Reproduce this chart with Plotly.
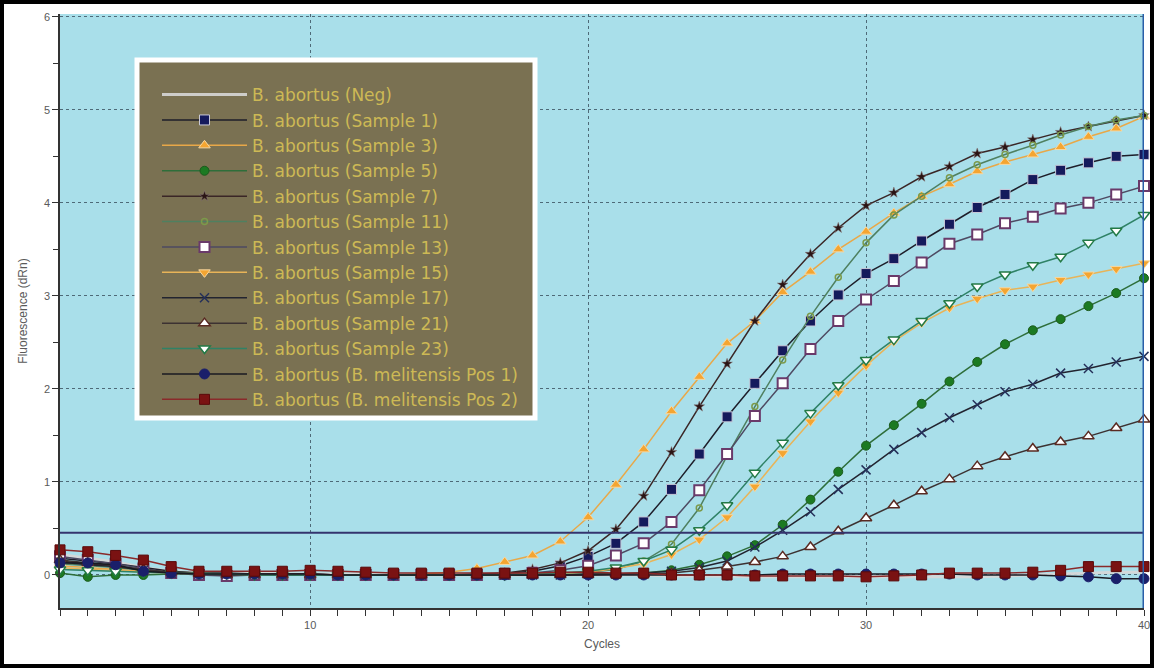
import plotly.graph_objects as go

cycles = list(range(1, 41))

series_names = [
    "B. abortus (Neg)",
    "B. abortus (Sample 1)",
    "B. abortus (Sample 3)",
    "B. abortus (Sample 5)",
    "B. abortus (Sample 7)",
    "B. abortus (Sample 11)",
    "B. abortus (Sample 13)",
    "B. abortus (Sample 15)",
    "B. abortus (Sample 17)",
    "B. abortus (Sample 21)",
    "B. abortus (Sample 23)",
    "B. abortus (B. melitensis Pos 1)",
    "B. abortus (B. melitensis Pos 2)",
]

neg = [0.22, 0.18, 0.14, 0.08, 0.04, 0.02, 0.02, 0.02, 0.01, 0.01,
       0.01, 0.01, 0.00, 0.00, 0.00, 0.00, 0.00, 0.00, 0.00, 0.00,
       0.00, 0.00, -0.01, -0.01, -0.01, -0.02, -0.02, -0.02, -0.02, -0.02,
       -0.02, -0.02, -0.02, -0.02, -0.01, 0.00, 0.01, 0.02, 0.03, 0.03]
sample1 = [0.18, 0.15, 0.12, 0.08, 0.04, 0.02, 0.02, 0.01, 0.01, 0.01,
           0.00, 0.00, 0.00, 0.00, 0.00, 0.01, 0.02, 0.04, 0.10, 0.20,
           0.34, 0.57, 0.92, 1.30, 1.70, 2.06, 2.41, 2.73, 3.01, 3.24,
           3.40, 3.59, 3.77, 3.95, 4.09, 4.25, 4.35, 4.43, 4.50, 4.52]
sample3 = [0.10, 0.08, 0.06, 0.04, 0.02, 0.01, 0.01, 0.00, 0.00, 0.00,
           0.00, 0.00, 0.00, 0.01, 0.03, 0.07, 0.14, 0.21, 0.36, 0.62,
           0.97, 1.35, 1.76, 2.13, 2.49, 2.73, 3.04, 3.26, 3.50, 3.69,
           3.89, 4.07, 4.20, 4.34, 4.44, 4.52, 4.60, 4.71, 4.80, 4.93]
sample5 = [0.02, -0.02, 0.00, 0.00, 0.01, 0.01, 0.00, 0.00, 0.00, 0.00,
           0.00, 0.00, 0.00, 0.00, 0.00, 0.00, 0.00, 0.00, 0.00, 0.01,
           0.01, 0.02, 0.05, 0.11, 0.20, 0.32, 0.54, 0.81, 1.11, 1.39,
           1.61, 1.84, 2.08, 2.29, 2.48, 2.63, 2.75, 2.89, 3.03, 3.19]
sample7 = [0.15, 0.12, 0.09, 0.06, 0.03, 0.02, 0.01, 0.01, 0.01, 0.01,
           0.00, 0.00, 0.00, 0.00, 0.00, 0.00, 0.02, 0.06, 0.13, 0.26,
           0.49, 0.85, 1.32, 1.81, 2.27, 2.73, 3.12, 3.45, 3.73, 3.97,
           4.11, 4.28, 4.39, 4.53, 4.60, 4.68, 4.76, 4.82, 4.88, 4.94]
sample11 = [0.12, 0.10, 0.08, 0.05, 0.03, 0.02, 0.01, 0.01, 0.00, 0.00,
            0.00, 0.00, 0.00, 0.00, 0.00, 0.00, 0.00, 0.01, 0.02, 0.03,
            0.06, 0.15, 0.33, 0.72, 1.28, 1.81, 2.31, 2.78, 3.20, 3.57,
            3.87, 4.07, 4.27, 4.41, 4.52, 4.62, 4.73, 4.82, 4.89, 4.94]
sample13 = [0.20, 0.16, 0.12, 0.07, 0.02, 0.00, -0.01, 0.00, 0.00, 0.00,
            0.00, 0.00, 0.00, 0.00, 0.00, 0.00, 0.01, 0.02, 0.05, 0.10,
            0.21, 0.34, 0.57, 0.91, 1.30, 1.71, 2.06, 2.43, 2.73, 2.96,
            3.16, 3.36, 3.56, 3.66, 3.78, 3.85, 3.94, 4.00, 4.09, 4.18]
sample15 = [0.08, 0.06, 0.05, 0.03, 0.02, 0.01, 0.01, 0.00, 0.00, 0.00,
            0.00, 0.00, 0.00, 0.00, 0.00, 0.00, 0.00, 0.01, 0.02, 0.03,
            0.07, 0.12, 0.22, 0.38, 0.62, 0.95, 1.31, 1.65, 1.96, 2.25,
            2.51, 2.71, 2.87, 2.97, 3.06, 3.10, 3.17, 3.23, 3.29, 3.35]
sample17 = [0.14, 0.11, 0.09, 0.05, 0.02, 0.01, 0.01, 0.01, 0.00, 0.00,
            0.00, 0.00, 0.00, 0.00, 0.00, 0.00, 0.00, 0.00, 0.00, 0.01,
            0.01, 0.02, 0.04, 0.08, 0.15, 0.30, 0.48, 0.68, 0.92, 1.13,
            1.35, 1.53, 1.69, 1.83, 1.97, 2.05, 2.17, 2.22, 2.29, 2.35]
sample21 = [0.16, 0.13, 0.10, 0.06, 0.03, 0.01, 0.00, 0.00, 0.00, 0.00,
            0.00, 0.00, 0.00, 0.00, 0.00, 0.00, 0.00, 0.00, 0.00, 0.00,
            0.01, 0.01, 0.02, 0.05, 0.09, 0.14, 0.20, 0.30, 0.47, 0.61,
            0.75, 0.90, 1.03, 1.17, 1.27, 1.36, 1.43, 1.49, 1.58, 1.67]
sample23 = [0.06, 0.05, 0.04, 0.03, 0.02, 0.01, 0.01, 0.00, 0.00, 0.00,
            0.00, 0.00, 0.00, 0.00, 0.00, 0.00, 0.00, 0.01, 0.02, 0.04,
            0.08, 0.15, 0.27, 0.48, 0.75, 1.10, 1.42, 1.74, 2.04, 2.31,
            2.53, 2.73, 2.92, 3.10, 3.23, 3.33, 3.42, 3.57, 3.70, 3.87]
pos1 = [0.13, 0.13, 0.11, 0.04, 0.02, 0.01, 0.01, 0.01, 0.01, 0.01,
        0.00, 0.00, 0.00, 0.00, 0.00, 0.00, 0.00, 0.00, 0.00, 0.00,
        0.00, 0.00, 0.00, 0.00, 0.00, 0.00, 0.01, 0.01, 0.01, 0.01,
        0.01, 0.01, 0.01, 0.00, 0.00, 0.00, -0.01, -0.02, -0.04, -0.04]
pos2 = [0.27, 0.25, 0.21, 0.16, 0.09, 0.04, 0.04, 0.04, 0.04, 0.05,
        0.04, 0.03, 0.02, 0.02, 0.02, 0.02, 0.02, 0.02, 0.03, 0.03,
        0.02, 0.02, 0.00, 0.00, 0.00, -0.01, -0.01, -0.01, -0.01, -0.02,
        -0.01, 0.00, 0.02, 0.02, 0.02, 0.03, 0.05, 0.09, 0.09, 0.09]

threshold = 0.455
x_ticks = [10, 20, 30, 40]
y_ticks = [0, 1, 2, 3, 4, 5, 6]

series_values = [neg, sample1, sample3, sample5, sample7, sample11, sample13,
                 sample15, sample17, sample21, sample23, pos1, pos2]

styles = [
    dict(line="rgba(215,215,215,0.9)", lw=3, sym="circle", msize=0, mcolor="rgba(0,0,0,0)", mline="rgba(0,0,0,0)", mlw=0),
    dict(line="#1e1e2a", lw=1.5, sym="square", msize=10, mcolor="#151a5c", mline="#c8c8d8", mlw=1),
    dict(line="#e8a848", lw=1.5, sym="triangle-up", msize=10, mcolor="#f4a531", mline="#f8d8a0", mlw=1),
    dict(line="#2e6e3a", lw=1.5, sym="circle", msize=9, mcolor="#1c7a22", mline="#1c5a1c", mlw=1),
    dict(line="#3a2626", lw=1.5, sym="star", msize=8, mcolor="#2a1414", mline="#8a7a7a", mlw=0.5),
    dict(line="#4f8060", lw=1.5, sym="circle-open", msize=6, mcolor="#7c9a4a", mline="#7c9a4a", mlw=1.5),
    dict(line="#4e4a62", lw=1.5, sym="square", msize=10, mcolor="#ffffff", mline="#6a3a6a", mlw=2),
    dict(line="#e8b458", lw=1.5, sym="triangle-down", msize=10, mcolor="#f4a531", mline="#f8d8a0", mlw=1),
    dict(line="#222430", lw=1.5, sym="x-thin", msize=9, mcolor="#25305a", mline="#25305a", mlw=1.5),
    dict(line="#3c3232", lw=1.5, sym="triangle-up", msize=10, mcolor="#ffffff", mline="#5a2a22", mlw=1.5),
    dict(line="#2f8266", lw=1.5, sym="triangle-down", msize=10, mcolor="#ffffff", mline="#237a46", mlw=1.5),
    dict(line="#1a1a22", lw=1.5, sym="circle", msize=10, mcolor="#1a1f6a", mline="#1a1f6a", mlw=1),
    dict(line="#8a2a2a", lw=1.5, sym="square", msize=10, mcolor="#7a1212", mline="#5a0a0a", mlw=1),
]

fig = go.Figure()
for i, (name, vals, st) in enumerate(zip(series_names, series_values, styles)):
    fig.add_trace(go.Scatter(
        x=cycles, y=vals, name=name, mode="lines+markers",
        line=dict(color=st["line"], width=st["lw"]),
        marker=dict(symbol=st["sym"], size=st["msize"], color=st["mcolor"],
                    line=dict(color=st["mline"], width=st["mlw"])),
        cliponaxis=False, legendgroup=f"g{i}",
    ))

PL, PT, PW, PH = 60, 14, 1084, 594  # plot-area geometry in px

# threshold line
fig.add_hline(y=threshold, line=dict(color="#34346e", width=2), layer="above")

# cursor line at the last cycle
fig.add_shape(type="line", xref="x", yref="paper", x0=cycles[-1], x1=cycles[-1],
              y0=0, y1=1, line=dict(color="#2a5fa8", width=3), layer="above")

# legend box
fig.add_shape(type="rect", xref="paper", yref="paper",
              x0=(137 - PL) / PW, x1=(535 - PL) / PW,
              y0=(PT + PH - 418) / PH, y1=(PT + PH - 60) / PH,
              fillcolor="#7a7152", line=dict(color="#ffffff", width=5), layer="above")

# outer black frame
fig.add_shape(type="rect", xref="paper", yref="paper",
              x0=(2 - PL) / PW, x1=(1152 - PL) / PW,
              y0=(PT + PH - 666) / PH, y1=(PT + PH - 2) / PH,
              fillcolor="rgba(0,0,0,0)", line=dict(color="#000000", width=4), layer="above")

tick_font = dict(family="Liberation Sans Narrow, Liberation Sans, Arial", size=11, color="#5a5a5a")
title_font = dict(family="Liberation Sans Narrow, Liberation Sans, Arial", size=12, color="#5a5a5a")

fig.update_layout(
    width=1154, height=668,
    margin=dict(l=PL, r=1154 - PL - PW, t=PT, b=668 - PT - PH, autoexpand=False),
    paper_bgcolor="#ffffff",
    plot_bgcolor="#a9dfea",
    showlegend=True,
    legend=dict(
        x=(157 - PL) / PW, y=(PT + PH - 77) / PH, xanchor="left", yanchor="top",
        bgcolor="rgba(0,0,0,0)", borderwidth=0,
        font=dict(family="DejaVu Sans, Liberation Sans, Arial", size=17, color="#cdb955"),
        itemwidth=85, tracegroupgap=0.3, traceorder="grouped",
        itemclick=False,
    ),
    xaxis=dict(
        range=[1, 40], tickmode="array", tickvals=x_ticks,
        ticktext=[str(t) for t in x_ticks], automargin=False,
        showgrid=True, gridcolor="#4e6a78", griddash="dot", gridwidth=1,
        showline=True, linecolor="#333333", linewidth=1.5,
        ticks="outside", ticklen=6, tickcolor="#333333",
        minor=dict(dtick=1, tick0=0, ticks="outside", ticklen=6, tickcolor="#333333", showgrid=False),
        zeroline=False, tickfont=tick_font,
        title=dict(text="Cycles", font=title_font, standoff=10),
    ),
    yaxis=dict(
        range=[-0.355, 6.03], tickmode="array", tickvals=y_ticks,
        ticktext=[str(t) for t in y_ticks], automargin=False,
        showgrid=True, gridcolor="#4e6a78", griddash="dot", gridwidth=1,
        showline=True, linecolor="#333333", linewidth=1.5,
        ticks="outside", ticklen=6, tickcolor="#333333",
        minor=dict(dtick=0.5, tick0=0, ticks="outside", ticklen=5, tickcolor="#333333", showgrid=False),
        zeroline=False, tickfont=tick_font,
        title=dict(text="Fluorescence (dRn)", font=title_font, standoff=14),
    ),
)

fig.write_html("out.html", config={"displayModeBar": False},
               post_script="document.body.style.margin='0';document.body.style.overflow='hidden';")
